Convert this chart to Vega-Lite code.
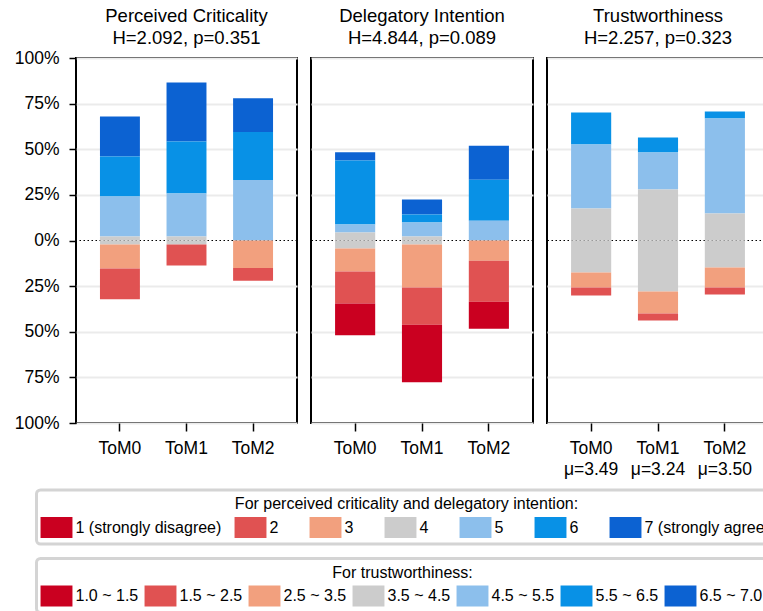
{
  "$schema": "https://vega.github.io/schema/vega-lite/v6.json",
  "padding": {"left": 13, "top": 6, "right": 0, "bottom": 0},
  "background": "white",
  "datasets": {
    "likert": [
      {"panel": "PC", "group": "ToM0", "level": "7 (strongly agree)", "value": 21.9},
      {"panel": "PC", "group": "ToM0", "level": "6", "value": 21.9},
      {"panel": "PC", "group": "ToM0", "level": "5", "value": 21.9},
      {"panel": "PC", "group": "ToM0", "level": "4", "value": 2.2},
      {"panel": "PC", "group": "ToM0", "level": "4", "value": -2.2},
      {"panel": "PC", "group": "ToM0", "level": "3", "value": -13.2},
      {"panel": "PC", "group": "ToM0", "level": "2", "value": -16.8},
      {"panel": "PC", "group": "ToM1", "level": "7 (strongly agree)", "value": 32.3},
      {"panel": "PC", "group": "ToM1", "level": "6", "value": 28.5},
      {"panel": "PC", "group": "ToM1", "level": "5", "value": 23.6},
      {"panel": "PC", "group": "ToM1", "level": "4", "value": 2.2},
      {"panel": "PC", "group": "ToM1", "level": "4", "value": -2.2},
      {"panel": "PC", "group": "ToM1", "level": "2", "value": -11.5},
      {"panel": "PC", "group": "ToM2", "level": "7 (strongly agree)", "value": 18.6},
      {"panel": "PC", "group": "ToM2", "level": "6", "value": 26.3},
      {"panel": "PC", "group": "ToM2", "level": "5", "value": 33.1},
      {"panel": "PC", "group": "ToM2", "level": "3", "value": -15.0},
      {"panel": "PC", "group": "ToM2", "level": "2", "value": -7.1},
      {"panel": "DI", "group": "ToM0", "level": "7 (strongly agree)", "value": 4.4},
      {"panel": "DI", "group": "ToM0", "level": "6", "value": 35.1},
      {"panel": "DI", "group": "ToM0", "level": "5", "value": 4.4},
      {"panel": "DI", "group": "ToM0", "level": "4", "value": 4.4},
      {"panel": "DI", "group": "ToM0", "level": "4", "value": -4.4},
      {"panel": "DI", "group": "ToM0", "level": "3", "value": -12.6},
      {"panel": "DI", "group": "ToM0", "level": "2", "value": -17.5},
      {"panel": "DI", "group": "ToM0", "level": "1 (strongly disagree)", "value": -17.4},
      {"panel": "DI", "group": "ToM1", "level": "7 (strongly agree)", "value": 8.2},
      {"panel": "DI", "group": "ToM1", "level": "6", "value": 4.4},
      {"panel": "DI", "group": "ToM1", "level": "5", "value": 7.7},
      {"panel": "DI", "group": "ToM1", "level": "4", "value": 2.2},
      {"panel": "DI", "group": "ToM1", "level": "4", "value": -2.2},
      {"panel": "DI", "group": "ToM1", "level": "3", "value": -23.6},
      {"panel": "DI", "group": "ToM1", "level": "2", "value": -20.3},
      {"panel": "DI", "group": "ToM1", "level": "1 (strongly disagree)", "value": -31.6},
      {"panel": "DI", "group": "ToM2", "level": "7 (strongly agree)", "value": 18.6},
      {"panel": "DI", "group": "ToM2", "level": "6", "value": 22.5},
      {"panel": "DI", "group": "ToM2", "level": "5", "value": 10.8},
      {"panel": "DI", "group": "ToM2", "level": "3", "value": -11.1},
      {"panel": "DI", "group": "ToM2", "level": "2", "value": -22.5},
      {"panel": "DI", "group": "ToM2", "level": "1 (strongly disagree)", "value": -14.8},
      {"panel": "TW", "group": "ToM0", "level": "5.5 ~ 6.5", "value": 17.5},
      {"panel": "TW", "group": "ToM0", "level": "4.5 ~ 5.5", "value": 35.1},
      {"panel": "TW", "group": "ToM0", "level": "3.5 ~ 4.5", "value": 17.55},
      {"panel": "TW", "group": "ToM0", "level": "3.5 ~ 4.5", "value": -17.55},
      {"panel": "TW", "group": "ToM0", "level": "2.5 ~ 3.5", "value": -8.2},
      {"panel": "TW", "group": "ToM0", "level": "1.5 ~ 2.5", "value": -4.4},
      {"panel": "TW", "group": "ToM1", "level": "5.5 ~ 6.5", "value": 8.2},
      {"panel": "TW", "group": "ToM1", "level": "4.5 ~ 5.5", "value": 20.3},
      {"panel": "TW", "group": "ToM1", "level": "3.5 ~ 4.5", "value": 27.95},
      {"panel": "TW", "group": "ToM1", "level": "3.5 ~ 4.5", "value": -27.95},
      {"panel": "TW", "group": "ToM1", "level": "2.5 ~ 3.5", "value": -12.1},
      {"panel": "TW", "group": "ToM1", "level": "1.5 ~ 2.5", "value": -3.8},
      {"panel": "TW", "group": "ToM2", "level": "5.5 ~ 6.5", "value": 3.8},
      {"panel": "TW", "group": "ToM2", "level": "4.5 ~ 5.5", "value": 52.1},
      {"panel": "TW", "group": "ToM2", "level": "3.5 ~ 4.5", "value": 14.8},
      {"panel": "TW", "group": "ToM2", "level": "3.5 ~ 4.5", "value": -14.8},
      {"panel": "TW", "group": "ToM2", "level": "2.5 ~ 3.5", "value": -11.0},
      {"panel": "TW", "group": "ToM2", "level": "1.5 ~ 2.5", "value": -3.8}
    ]
  },
  "data": {"name": "likert"},
  "spacing": 10,
  "resolve": {"scale": {"x": "independent", "y": "independent"}},
  "hconcat": [
    {
      "title": {"text": ["Perceived Criticality", "H=2.092, p=0.351"], "offset": 2},
      "width": 221,
      "height": 365,
      "transform": [{"filter": "datum.panel == 'PC'"}],
      "layer": [
        {
          "data": {"values": [{}]},
          "mark": {"type": "rule", "color": "black", "strokeWidth": 1.2, "strokeDash": [1.5, 2.5]},
          "encoding": {"y": {"datum": 0, "type": "quantitative", "scale": {"domain": [-100, 100], "nice": false}, "axis": {"values": [-100, -75, -50, -25, 0, 25, 50, 75, 100], "labelExpr": "abs(datum.value) + '%'", "title": null, "grid": true, "gridOpacity": {"condition": {"test": "datum.value == 0", "value": 0}, "value": 1}}}}
        },
        {
          "transform": [{"filter": "datum.value > 0"}],
          "mark": {"type": "bar"},
          "encoding": {
            "x": {"field": "group", "type": "nominal", "scale": {"domain": ["ToM0", "ToM1", "ToM2"], "paddingInner": 0.4, "paddingOuter": 0.36}, "axis": {"title": null}},
            "y": {"field": "value", "type": "quantitative", "stack": "zero", "scale": {"domain": [-100, 100], "nice": false}, "axis": {"values": [-100, -75, -50, -25, 0, 25, 50, 75, 100], "labelExpr": "abs(datum.value) + '%'", "title": null, "grid": true, "gridOpacity": {"condition": {"test": "datum.value == 0", "value": 0}, "value": 1}}},
            "color": {"field": "level", "type": "nominal", "scale": {"domain": ["1 (strongly disagree)", "2", "3", "4", "5", "6", "7 (strongly agree)"], "range": ["#ca0020", "#e05252", "#f2a07e", "#cccccc", "#8cbfec", "#0891e6", "#0c62d2"]}, "legend": {"title": "For perceived criticality and delegatory intention:", "orient": "none", "legendX": -39.5, "legendY": 432, "direction": "horizontal", "columns": 7, "columnPadding": 13, "labelExpr": "length(datum.label) == 1 ? datum.label + '\u00a0\u00a0\u00a0\u00a0\u200b' : datum.label"}},
            "order": {"field": "level", "sort": "ascending"}
          }
        },
        {
          "transform": [{"filter": "datum.value < 0"}],
          "mark": {"type": "bar"},
          "encoding": {
            "x": {"field": "group", "type": "nominal", "scale": {"domain": ["ToM0", "ToM1", "ToM2"], "paddingInner": 0.4, "paddingOuter": 0.36}, "axis": {"title": null}},
            "y": {"field": "value", "type": "quantitative", "stack": "zero", "scale": {"domain": [-100, 100], "nice": false}, "axis": {"values": [-100, -75, -50, -25, 0, 25, 50, 75, 100], "labelExpr": "abs(datum.value) + '%'", "title": null, "grid": true, "gridOpacity": {"condition": {"test": "datum.value == 0", "value": 0}, "value": 1}}},
            "color": {"field": "level", "type": "nominal", "scale": {"domain": ["1 (strongly disagree)", "2", "3", "4", "5", "6", "7 (strongly agree)"], "range": ["#ca0020", "#e05252", "#f2a07e", "#cccccc", "#8cbfec", "#0891e6", "#0c62d2"]}, "legend": {"title": "For perceived criticality and delegatory intention:", "orient": "none", "legendX": -39.5, "legendY": 432, "direction": "horizontal", "columns": 7, "columnPadding": 13, "labelExpr": "length(datum.label) == 1 ? datum.label + '\u00a0\u00a0\u00a0\u00a0\u200b' : datum.label"}},
            "order": {"field": "level", "sort": "descending"}
          }
        }
      ]
    },
    {
      "title": {"text": ["Delegatory Intention", "H=4.844, p=0.089"]},
      "width": 222,
      "height": 365,
      "transform": [{"filter": "datum.panel == 'DI'"}],
      "layer": [
        {
          "data": {"values": [{}]},
          "mark": {"type": "rule", "color": "black", "strokeWidth": 1.2, "strokeDash": [1.5, 2.5]},
          "encoding": {"y": {"datum": 0, "type": "quantitative", "scale": {"domain": [-100, 100], "nice": false}, "axis": {"values": [-100, -75, -50, -25, 0, 25, 50, 75, 100], "labels": false, "ticks": false, "title": null, "grid": true, "gridOpacity": {"condition": {"test": "datum.value == 0", "value": 0}, "value": 1}}}}
        },
        {
          "transform": [{"filter": "datum.value > 0"}],
          "mark": {"type": "bar"},
          "encoding": {
            "x": {"field": "group", "type": "nominal", "scale": {"domain": ["ToM0", "ToM1", "ToM2"], "paddingInner": 0.4, "paddingOuter": 0.36}, "axis": {"title": null}},
            "y": {"field": "value", "type": "quantitative", "stack": "zero", "scale": {"domain": [-100, 100], "nice": false}, "axis": {"values": [-100, -75, -50, -25, 0, 25, 50, 75, 100], "labels": false, "ticks": false, "title": null, "grid": true, "gridOpacity": {"condition": {"test": "datum.value == 0", "value": 0}, "value": 1}}},
            "color": {"field": "level", "type": "nominal", "scale": {"domain": ["1 (strongly disagree)", "2", "3", "4", "5", "6", "7 (strongly agree)"], "range": ["#ca0020", "#e05252", "#f2a07e", "#cccccc", "#8cbfec", "#0891e6", "#0c62d2"]}, "legend": {"title": "For perceived criticality and delegatory intention:", "orient": "none", "legendX": -39.5, "legendY": 432, "direction": "horizontal", "columns": 7, "columnPadding": 13, "labelExpr": "length(datum.label) == 1 ? datum.label + '\u00a0\u00a0\u00a0\u00a0\u200b' : datum.label"}},
            "order": {"field": "level", "sort": "ascending"}
          }
        },
        {
          "transform": [{"filter": "datum.value < 0"}],
          "mark": {"type": "bar"},
          "encoding": {
            "x": {"field": "group", "type": "nominal", "scale": {"domain": ["ToM0", "ToM1", "ToM2"], "paddingInner": 0.4, "paddingOuter": 0.36}, "axis": {"title": null}},
            "y": {"field": "value", "type": "quantitative", "stack": "zero", "scale": {"domain": [-100, 100], "nice": false}, "axis": {"values": [-100, -75, -50, -25, 0, 25, 50, 75, 100], "labels": false, "ticks": false, "title": null, "grid": true, "gridOpacity": {"condition": {"test": "datum.value == 0", "value": 0}, "value": 1}}},
            "color": {"field": "level", "type": "nominal", "scale": {"domain": ["1 (strongly disagree)", "2", "3", "4", "5", "6", "7 (strongly agree)"], "range": ["#ca0020", "#e05252", "#f2a07e", "#cccccc", "#8cbfec", "#0891e6", "#0c62d2"]}, "legend": {"title": "For perceived criticality and delegatory intention:", "orient": "none", "legendX": -39.5, "legendY": 432, "direction": "horizontal", "columns": 7, "columnPadding": 13, "labelExpr": "length(datum.label) == 1 ? datum.label + '\u00a0\u00a0\u00a0\u00a0\u200b' : datum.label"}},
            "order": {"field": "level", "sort": "descending"}
          }
        }
      ]
    },
    {
      "title": {"text": ["Trustworthiness", "H=2.257, p=0.323"]},
      "width": 222,
      "height": 365,
      "transform": [{"filter": "datum.panel == 'TW'"}],
      "layer": [
        {
          "data": {"values": [{}]},
          "mark": {"type": "rule", "color": "black", "strokeWidth": 1.2, "strokeDash": [1.5, 2.5]},
          "encoding": {"y": {"datum": 0, "type": "quantitative", "scale": {"domain": [-100, 100], "nice": false}, "axis": {"values": [-100, -75, -50, -25, 0, 25, 50, 75, 100], "labels": false, "ticks": false, "title": null, "grid": true, "gridOpacity": {"condition": {"test": "datum.value == 0", "value": 0}, "value": 1}}}}
        },
        {
          "transform": [{"filter": "datum.value > 0"}],
          "mark": {"type": "bar"},
          "encoding": {
            "x": {"field": "group", "type": "nominal", "scale": {"domain": ["ToM0", "ToM1", "ToM2"], "paddingInner": 0.4, "paddingOuter": 0.36}, "axis": {"title": null, "labelExpr": "datum.value == 'ToM0' ? ['ToM0', 'μ=3.49'] : datum.value == 'ToM1' ? ['ToM1', 'μ=3.24'] : ['ToM2', 'μ=3.50']"}},
            "y": {"field": "value", "type": "quantitative", "stack": "zero", "scale": {"domain": [-100, 100], "nice": false}, "axis": {"values": [-100, -75, -50, -25, 0, 25, 50, 75, 100], "labels": false, "ticks": false, "title": null, "grid": true, "gridOpacity": {"condition": {"test": "datum.value == 0", "value": 0}, "value": 1}}},
            "fill": {"field": "level", "type": "nominal", "scale": {"domain": ["1.0 ~ 1.5", "1.5 ~ 2.5", "2.5 ~ 3.5", "3.5 ~ 4.5", "4.5 ~ 5.5", "5.5 ~ 6.5", "6.5 ~ 7.0"], "range": ["#ca0020", "#e05252", "#f2a07e", "#cccccc", "#8cbfec", "#0891e6", "#0c62d2"]}, "legend": {"title": "For trustworthiness:", "orient": "none", "legendX": -39.5, "legendY": 500.5, "direction": "horizontal", "columns": 7, "columnPadding": 6}},
            "order": {"field": "level", "sort": "ascending"}
          }
        },
        {
          "transform": [{"filter": "datum.value < 0"}],
          "mark": {"type": "bar"},
          "encoding": {
            "x": {"field": "group", "type": "nominal", "scale": {"domain": ["ToM0", "ToM1", "ToM2"], "paddingInner": 0.4, "paddingOuter": 0.36}, "axis": {"title": null, "labelExpr": "datum.value == 'ToM0' ? ['ToM0', 'μ=3.49'] : datum.value == 'ToM1' ? ['ToM1', 'μ=3.24'] : ['ToM2', 'μ=3.50']"}},
            "y": {"field": "value", "type": "quantitative", "stack": "zero", "scale": {"domain": [-100, 100], "nice": false}, "axis": {"values": [-100, -75, -50, -25, 0, 25, 50, 75, 100], "labels": false, "ticks": false, "title": null, "grid": true, "gridOpacity": {"condition": {"test": "datum.value == 0", "value": 0}, "value": 1}}},
            "fill": {"field": "level", "type": "nominal", "scale": {"domain": ["1.0 ~ 1.5", "1.5 ~ 2.5", "2.5 ~ 3.5", "3.5 ~ 4.5", "4.5 ~ 5.5", "5.5 ~ 6.5", "6.5 ~ 7.0"], "range": ["#ca0020", "#e05252", "#f2a07e", "#cccccc", "#8cbfec", "#0891e6", "#0c62d2"]}, "legend": {"title": "For trustworthiness:", "orient": "none", "legendX": -39.5, "legendY": 500.5, "direction": "horizontal", "columns": 7, "columnPadding": 6}},
            "order": {"field": "level", "sort": "descending"}
          }
        }
      ]
    }
  ],
  "config": {
    "font": "Liberation Sans",
    "view": {"stroke": "black", "strokeWidth": 2},
    "title": {"fontSize": 18.5, "fontWeight": "normal", "color": "black", "lineHeight": 21.5, "offset": 11, "anchor": "middle", "frame": "group"},
    "axis": {"labelFontSize": 17.5, "labelColor": "black", "tickColor": "black", "tickWidth": 1.5, "domain": false, "gridColor": "#ebebeb", "gridWidth": 2, "labelLineHeight": 21},
    "axisX": {"tickSize": 8, "labelPadding": 8, "labelAngle": 0, "grid": false},
    "axisY": {"tickSize": 7, "labelPadding": 10},
    "legend": {"titleAnchor": "middle", "titleFontSize": 16, "titleFontWeight": "normal", "titleColor": "black", "titleLimit": 2000, "titlePadding": 5, "labelFontSize": 16, "labelColor": "black", "labelLimit": 400, "labelOffset": 8.5, "symbolType": "M-1.52,-1H1.52V1H-1.52Z", "symbolSize": 441, "symbolStrokeWidth": 0, "symbolOpacity": 1, "symbolOffset": 3.5, "rowPadding": 0, "padding": 6, "strokeColor": "#d4d4d4", "strokeWidth": 3, "cornerRadius": 4, "fillColor": "white"}
  }
}
